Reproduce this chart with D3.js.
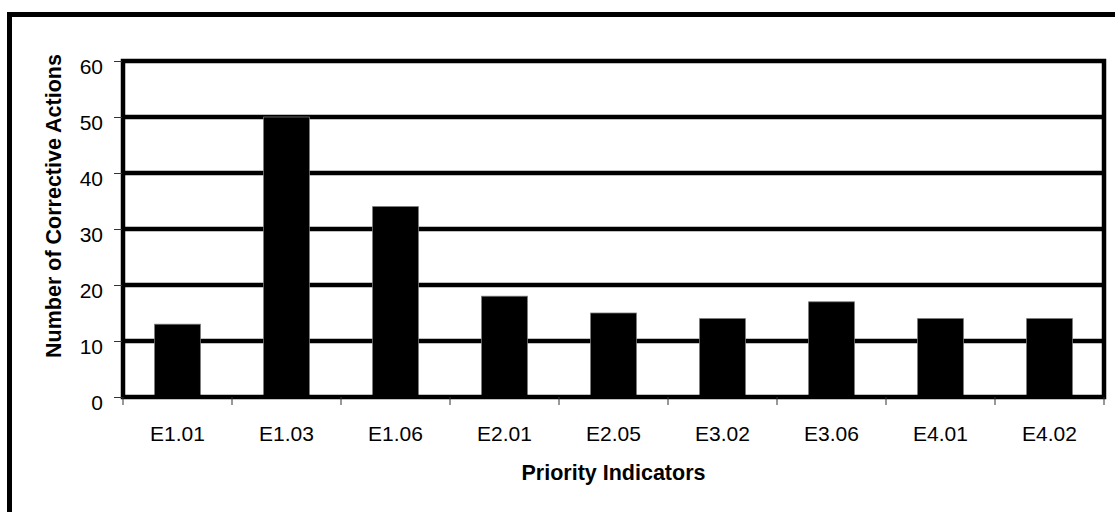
<!DOCTYPE html>
<html>
<head>
<meta charset="utf-8">
<script src="https://cdn.jsdelivr.net/npm/d3@7"></script>
<style>
  html, body { margin: 0; padding: 0; background: #fff; }
  svg { display: block; font-family: "Liberation Sans", Arial, sans-serif; }
</style>
</head>
<body>
<svg id="chart" width="1115" height="512"></svg>
<script>
// Corrective actions per priority indicator
const categories = ["E1.01", "E1.03", "E1.06", "E2.01", "E2.05", "E3.02", "E3.06", "E4.01", "E4.02"];
const actions = [13, 50, 34, 18, 15, 14, 17, 14, 14];
const yTicks = [0, 10, 20, 30, 40, 50, 60];

const svg = d3.select("#chart");
const plot = { left: 123, right: 1104, top: 61, bottom: 397 };

// outer frame (runs past the right and bottom edges)
svg.append("rect")
  .attr("x", 9.5).attr("y", 14.5)
  .attr("width", 1300).attr("height", 700)
  .attr("fill", "#fff").attr("stroke", "#000").attr("stroke-width", 5);

const x = d3.scaleBand().domain(categories).range([plot.left, plot.right]).padding(0);
const y = d3.scaleLinear().domain([0, 60]).range([plot.bottom, plot.top]);

// horizontal gridlines
svg.append("g").selectAll("line")
  .data(yTicks.filter(t => t > 0 && t < 60))
  .join("line")
  .attr("x1", plot.left).attr("x2", plot.right)
  .attr("y1", d => y(d)).attr("y2", d => y(d))
  .attr("stroke", "#000").attr("stroke-width", 4.5);

// bars
const barW = x.bandwidth() * 0.42;
svg.append("g").selectAll("rect")
  .data(categories.map((c, i) => ({ c, v: actions[i] })))
  .join("rect")
  .attr("x", d => x(d.c) + (x.bandwidth() - barW) / 2)
  .attr("width", barW)
  .attr("y", d => y(d.v))
  .attr("height", d => y(0) - y(d.v))
  .attr("fill", "#000")
  .attr("stroke", "#777").attr("stroke-width", 0.8);

// plot frame
svg.append("rect")
  .attr("x", plot.left).attr("y", plot.top)
  .attr("width", plot.right - plot.left).attr("height", plot.bottom - plot.top)
  .attr("fill", "none").attr("stroke", "#000").attr("stroke-width", 4.5);

// y axis
const yAxis = d3.axisLeft(y).tickValues(yTicks).tickSize(8).tickPadding(11);
const gy = svg.append("g").attr("transform", `translate(${plot.left - 1},0)`).call(yAxis);
gy.select(".domain").remove();
gy.selectAll(".tick line").attr("stroke", "#333").attr("stroke-width", 1);
gy.selectAll(".tick text")
  .attr("font-size", 21).attr("fill", "#000")
  .attr("dy", "0.58em");

// x axis: ticks at category boundaries, labels at centres
const boundaries = categories.map(c => x(c)).concat([plot.right]);
svg.append("g").selectAll("line")
  .data(boundaries)
  .join("line")
  .attr("x1", d => d).attr("x2", d => d)
  .attr("y1", plot.bottom).attr("y2", plot.bottom + 8)
  .attr("stroke", "#333").attr("stroke-width", 1);

svg.append("g").selectAll("text")
  .data(categories)
  .join("text")
  .attr("x", d => x(d) + x.bandwidth() / 2)
  .attr("y", 441)
  .attr("text-anchor", "middle")
  .attr("font-size", 21)
  .text(d => d);

// axis titles
svg.append("text")
  .attr("x", (plot.left + plot.right) / 2).attr("y", 480)
  .attr("text-anchor", "middle")
  .attr("font-size", 21.5).attr("font-weight", "bold")
  .text("Priority Indicators");

svg.append("text")
  .attr("transform", "translate(61,206) rotate(-90)")
  .attr("text-anchor", "middle")
  .attr("font-size", 21.5).attr("font-weight", "bold")
  .text("Number of Corrective Actions");
</script>
</body>
</html>
